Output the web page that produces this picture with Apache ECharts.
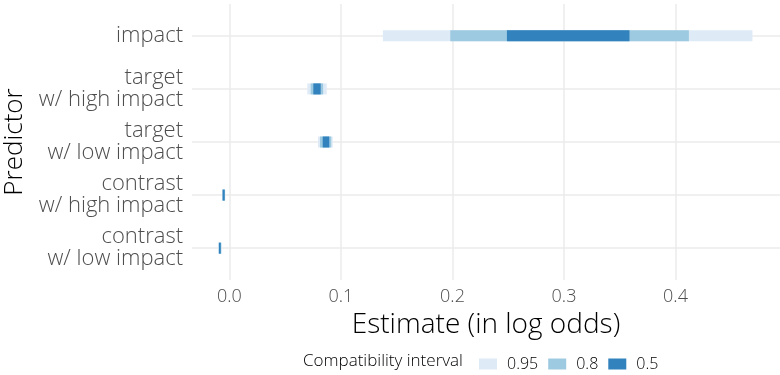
<!DOCTYPE html>
<html>
<head>
<meta charset="utf-8">
<script src="https://cdn.jsdelivr.net/npm/echarts@6/dist/echarts.min.js"></script>
<style>
  html, body { margin: 0; padding: 0; background: #fff; }
  #chart { width: 780px; height: 375px; }
</style>
</head>
<body>
<div id="chart"></div>
<script>
// predictors (top to bottom) and their y position
var predictors = ['impact', 'target\nw/ high impact', 'target\nw/ low impact', 'contrast\nw/ high impact', 'contrast\nw/ low impact'];
var rows = [1, 2, 3, 4, 5];

// compatibility intervals
var lo95 = [0.1376, 0.0698, 0.0794, -0.0067, -0.0101];
var hi95 = [0.469, 0.0872, 0.0926, -0.0037, -0.0071];
var lo80 = [0.198, 0.0728, 0.0812, -0.0064, -0.0098];
var hi80 = [0.412, 0.0840, 0.0913, -0.0040, -0.0074];
var lo50 = [0.2488, 0.0752, 0.0836, -0.0061, -0.0094];
var hi50 = [0.3587, 0.0818, 0.0895, -0.0043, -0.0078];

var xTicks = [0, 0.1, 0.2, 0.3, 0.4];
var levels = ['0.95', '0.8', '0.5'];
var colors = ['#deebf7', '#9ecae1', '#3182bd'];

var FONT = 'Open Sans';

function makeData(lo, hi) {
	var out = [];
	for (var i = 0; i < rows.length; i++) {
		out.push([lo[i], hi[i], rows[i]]);
	}
	return out;
}

// 구간 막대
function renderInterval(params, api) {
	var y = api.value(2);
	var start = api.coord([api.value(0), y]);
	var end = api.coord([api.value(1), y]);
	return {
		type: 'rect',
		shape: { x: start[0], y: start[1] - 5.5, width: end[0] - start[0], height: 11 },
		style: { fill: api.visual('color') }
	};
}

var chart = echarts.init(document.getElementById('chart'), null, { renderer: 'canvas' });

var series = [];
var allData = [makeData(lo95, hi95), makeData(lo80, hi80), makeData(lo50, hi50)];
for (var k = 0; k < levels.length; k++) {
	series.push({
		name: levels[k],
		type: 'custom',
		renderItem: renderInterval,
		encode: { x: [0, 1], y: 2 },
		itemStyle: { color: colors[k] },
		data: allData[k],
		z: 2 + k
	});
}

var option = {
	animation: false,
	textStyle: { fontFamily: FONT },
	grid: { left: 192, right: 0, top: 4, bottom: 95, containLabel: false, outerBoundsMode: 'none' },
	xAxis: {
		type: 'value',
		min: -0.0336,
		max: 0.4937,
		name: 'Estimate (in log odds)',
		nameLocation: 'middle',
		nameGap: 29,
		nameTextStyle: { fontSize: 28, color: '#000', fontFamily: FONT, fontWeight: 300 },
		axisLine: { show: false },
		axisTick: { show: false, customValues: xTicks },
		axisLabel: {
			customValues: xTicks,
			fontSize: 18, color: '#4d4d4d', margin: 8, fontFamily: FONT, fontWeight: 300,
			formatter: function(v) { return v.toFixed(1); }
		},
		splitLine: { show: true, lineStyle: { color: '#ebebeb', width: 1.5 } }
	},
	yAxis: {
		type: 'value',
		inverse: true,
		min: 0.4,
		max: 5.6,
		name: 'Predictor',
		nameLocation: 'middle',
		nameGap: 162,
		nameTextStyle: { fontSize: 26, color: '#000', fontFamily: FONT, fontWeight: 300 },
		axisLine: { show: false },
		axisTick: { show: false, customValues: rows },
		axisLabel: {
			customValues: rows,
			fontSize: 22, color: '#4d4d4d', margin: 9, lineHeight: 22, fontFamily: FONT, fontWeight: 300,
			align: 'right',
			formatter: function(v) { return predictors[Math.round(v) - 1]; }
		},
		splitLine: { show: true, lineStyle: { color: '#ebebeb', width: 1.5 } }
	},
	legend: {
		data: levels,
		left: 474,
		top: 351,
		itemWidth: 18,
		itemHeight: 11,
		itemGap: 10,
		icon: 'rect',
		textStyle: { fontSize: 16, color: '#000', fontFamily: FONT, fontWeight: 300, padding: [0, 0, 0, 5] }
	},
	graphic: [{
		type: 'text',
		left: 303,
		top: 353,
		style: { text: 'Compatibility interval', fontSize: 17, fill: '#000', fontFamily: FONT, fontWeight: 300 }
	}],
	series: series
};

chart.setOption(option);
</script>
</body>
</html>
